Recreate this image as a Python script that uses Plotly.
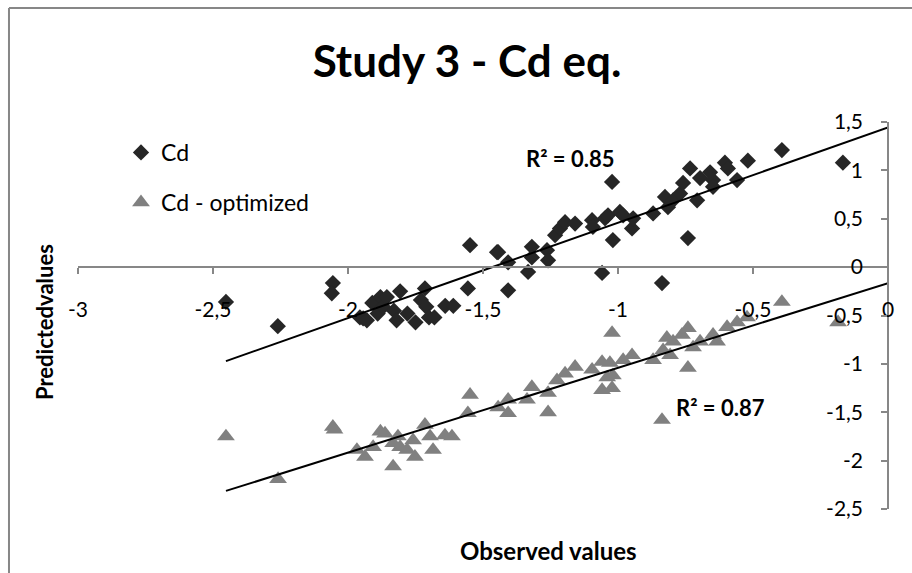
import plotly.graph_objects as go

# Observed vs predicted values, Cd equation
cd_obs = [-2.452, -2.26, -2.056, -2.06, -1.956, -1.944, -1.93, -1.91, -1.89, -1.88,
          -1.87, -1.856, -1.83, -1.82, -1.807, -1.78, -1.75, -1.73, -1.715, -1.71,
          -1.70, -1.68, -1.64, -1.61, -1.556, -1.548, -1.448, -1.444, -1.407, -1.407,
          -1.333, -1.319, -1.319, -1.263, -1.259, -1.233, -1.215, -1.196, -1.159, -1.096,
          -1.093, -1.059, -1.048, -1.037, -1.022, -1.019, -0.993, -0.981, -0.948, -0.944,
          -0.870, -0.837, -0.826, -0.815, -0.796, -0.770, -0.759, -0.741, -0.733, -0.707,
          -0.696, -0.659, -0.648, -0.648, -0.604, -0.593, -0.559, -0.519, -0.393, -0.167]
cd_pred = [-0.36, -0.61, -0.165, -0.27, -0.52, -0.53, -0.55, -0.37, -0.48, -0.31,
           -0.41, -0.31, -0.45, -0.55, -0.25, -0.48, -0.57, -0.34, -0.22, -0.41,
           -0.52, -0.52, -0.40, -0.40, -0.22, 0.227, 0.155, 0.155, 0.05, -0.24,
           -0.05, 0.21, 0.10, 0.175, 0.07, 0.33, 0.40, 0.465, 0.45, 0.485,
           0.415, -0.06, 0.505, 0.535, 0.88, 0.28, 0.57, 0.535, 0.40, 0.505,
           0.555, -0.165, 0.725, 0.62, 0.69, 0.76, 0.87, 0.30, 1.02, 0.69,
           0.92, 0.98, 0.90, 0.83, 1.08, 1.02, 0.90, 1.10, 1.21, 1.08]

# Observed vs predicted values, optimized Cd equation
opt_obs = [-2.452, -2.259, -2.056, -2.05, -1.967, -1.937, -1.907, -1.88, -1.863, -1.833,
           -1.833, -1.815, -1.807, -1.781, -1.759, -1.752, -1.715, -1.696, -1.685, -1.641,
           -1.615, -1.556, -1.548, -1.444, -1.407, -1.407, -1.337, -1.319, -1.259, -1.259,
           -1.226, -1.196, -1.159, -1.096, -1.059, -1.059, -1.04, -1.03, -1.022, -1.022,
           -1.019, -0.981, -0.948, -0.870, -0.837, -0.833, -0.819, -0.807, -0.796, -0.763,
           -0.741, -0.741, -0.722, -0.696, -0.648, -0.633, -0.596, -0.559, -0.522, -0.393,
           -0.185]
opt_pred = [-1.75, -2.19, -1.65, -1.68, -1.89, -1.96, -1.86, -1.70, -1.72, -2.06,
            -1.82, -1.75, -1.86, -1.89, -1.79, -1.96, -1.63, -1.75, -1.89, -1.74,
            -1.75, -1.51, -1.32, -1.45, -1.37, -1.51, -1.37, -1.24, -1.30, -1.50,
            -1.17, -1.10, -1.03, -1.06, -0.98, -1.27, -1.14, -0.99, -0.68, -1.25,
            -1.12, -0.96, -0.91, -0.96, -1.58, -0.86, -0.73, -0.91, -0.77, -0.70,
            -0.63, -1.04, -0.83, -0.77, -0.70, -0.77, -0.62, -0.57, -0.52, -0.36,
            -0.57]

# Linear trendlines (slope, intercept) and their R² values
cd_trend = (0.985, 1.444)
opt_trend = (0.876, -0.165)
cd_r2 = "0.85"
opt_r2 = "0.87"

x_ticks = [-3, -2.5, -2, -1.5, -1, -0.5, 0]
x_ticklabels = ["-3", "-2,5", "-2", "-1,5", "-1", "-0,5", "0"]
y_ticks = [-2.5, -2, -1.5, -1, -0.5, 0, 0.5, 1, 1.5]
y_ticklabels = ["-2,5", "-2", "-1,5", "-1", "-0,5", "0", "0,5", "1", "1,5"]

FONT = "Lato"
AXIS_GREY = "#878787"
x_range = [-3, 0]
y_range = [-2.5, 1.5]


def trend_line(xs, coeffs):
    x0, x1 = min(xs), 0.0
    m, b = coeffs
    return [x0, x1], [m * x0 + b, m * x1 + b]


fig = go.Figure()

fig.add_trace(go.Scatter(
    x=cd_obs, y=cd_pred, mode="markers", name="Cd", legendgroup="cd",
    marker=dict(symbol="diamond", size=12.5, color="#262626", line=dict(width=0)),
))
fig.add_trace(go.Scatter(
    x=opt_obs, y=opt_pred, mode="markers", name="Cd - optimized", legendgroup="opt",
    marker=dict(symbol="triangle-up", size=15.5, color="#808080", line=dict(width=0)),
))

for xs, coeffs in ((cd_obs, cd_trend), (opt_obs, opt_trend)):
    lx, ly = trend_line(xs, coeffs)
    fig.add_trace(go.Scatter(
        x=lx, y=ly, mode="lines", showlegend=False, hoverinfo="skip",
        line=dict(color="black", width=2),
    ))

# Excel-style axes: the x axis crosses at y = 0, the y axis at x = 0
y_cross = (0 - y_range[0]) / (y_range[1] - y_range[0])
fig.update_xaxes(
    range=x_range, tickvals=x_ticks, ticktext=x_ticklabels,
    anchor="free", position=y_cross, side="bottom",
    showgrid=False, zeroline=False, showline=True, linecolor=AXIS_GREY, linewidth=1.5,
    ticks="outside", ticklen=6, tickcolor=AXIS_GREY, tickwidth=1.5,
    ticklabelstandoff=18,
    tickfont=dict(family=FONT, size=21, color="black"),
)
fig.update_yaxes(
    range=y_range, tickvals=y_ticks, ticktext=y_ticklabels,
    anchor="free", position=1.0, side="left",
    showgrid=False, zeroline=False, showline=True, linecolor=AXIS_GREY, linewidth=1.5,
    ticks="outside", ticklen=6, tickcolor=AXIS_GREY, tickwidth=1.5,
    ticklabelstandoff=14,
    tickfont=dict(family=FONT, size=21, color="black"),
)

fig.add_annotation(text="<b>R² = " + cd_r2 + "</b>", x=-1.178, y=1.126, xref="x", yref="y",
                   showarrow=False, font=dict(family=FONT, size=22, color="black"))
fig.add_annotation(text="<b>R² = " + opt_r2 + "</b>", x=-0.622, y=-1.446, xref="x", yref="y",
                   showarrow=False, font=dict(family=FONT, size=22, color="black"))

fig.add_annotation(text="<b>Observed values</b>", x=(548 - 78) / 810, y=(509 - 550) / 387,
                   xref="paper", yref="paper", xanchor="center", yanchor="middle",
                   showarrow=False, font=dict(family=FONT, size=24, color="black"))
fig.add_annotation(text="<b>Predictedvalues</b>", x=(44 - 78) / 810, y=(509 - 322) / 387,
                   xref="paper", yref="paper", xanchor="center", yanchor="middle",
                   textangle=-90, showarrow=False, font=dict(family=FONT, size=22, color="black"))

# Chart-area frame (left and top edges)
fig.add_shape(type="line", xref="paper", yref="paper", x0=-0.0852, x1=-0.0852, y0=-0.2, y1=1.2946,
              line=dict(color=AXIS_GREY, width=2))
fig.add_shape(type="line", xref="paper", yref="paper", x0=-0.0852, x1=1.04, y0=1.2946, y1=1.2946,
              line=dict(color=AXIS_GREY, width=2))

fig.update_layout(
    width=912, height=573,
    margin=dict(l=78, r=24, t=122, b=64),
    paper_bgcolor="white", plot_bgcolor="white",
    title=dict(text="<b>Study 3 - Cd eq.</b>", x=467 / 912, xanchor="center",
               y=1 - 62 / 573, yanchor="middle",
               font=dict(family=FONT, size=44, color="black")),
    showlegend=True,
    legend=dict(x=(121 - 78) / 810, y=(509 - 131) / 387, xanchor="left", yanchor="top",
                tracegroupgap=17, bgcolor="rgba(0,0,0,0)",
                font=dict(family=FONT, size=23, color="black")),
)

fig.write_html("out.html")
